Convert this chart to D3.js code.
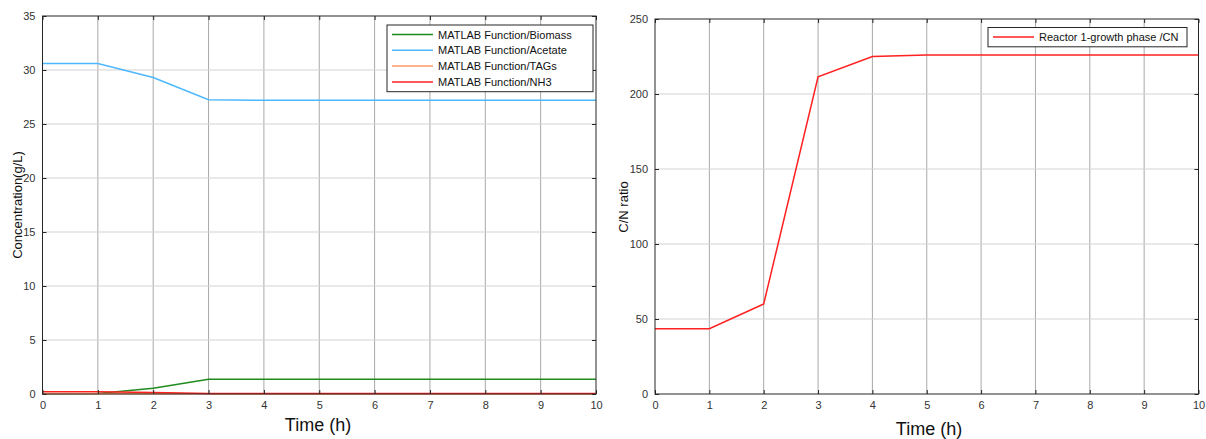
<!DOCTYPE html>
<html>
<head>
<meta charset="utf-8">
<script src="https://d3js.org/d3.v7.min.js"></script>
<style>
  body { margin: 0; background: #fff; }
  text { font-family: "Liberation Sans", Arial, sans-serif; }
</style>
</head>
<body>
<div id="chart"></div>
<script>
// time points (h)
var timeH = [0, 1, 2, 3, 4, 5, 6, 7, 8, 9, 10];

// left panel series, g/L
var biomass = [0.02, 0.05, 0.53, 1.36, 1.37, 1.37, 1.37, 1.37, 1.37, 1.37, 1.37];
var acetate = [30.6, 30.6, 29.3, 27.25, 27.2, 27.2, 27.2, 27.2, 27.2, 27.2, 27.2];
var tags = [0.02, 0.02, 0.02, 0.02, 0.02, 0.02, 0.02, 0.02, 0.02, 0.02, 0.02];
var nh3 = [0.2, 0.2, 0.15, 0.05, 0.05, 0.05, 0.05, 0.05, 0.05, 0.05, 0.05];
var leftNames = ["MATLAB Function/Biomass", "MATLAB Function/Acetate", "MATLAB Function/TAGs", "MATLAB Function/NH3"];
var leftColors = ["#1f8a1f", "#4db8ff", "#ff9966", "#ff2020"];
var leftTicks = [0, 5, 10, 15, 20, 25, 30, 35];

// right panel series
var cnRatio = [43.5, 43.5, 60, 211.5, 225, 226, 226, 226, 226, 226, 226];
var rightNames = ["Reactor 1-growth phase /CN"];
var rightColors = ["#ff2020"];
var rightTicks = [0, 50, 100, 150, 200, 250];

var xTicks = [0, 1, 2, 3, 4, 5, 6, 7, 8, 9, 10];

var svg = d3.select("#chart").append("svg")
  .attr("width", 1206)
  .attr("height", 439);

function drawPanel(opt) {
  var g = svg.append("g");
  var x = d3.scaleLinear().domain([0, 10]).range([opt.left, opt.right]);
  var y = d3.scaleLinear().domain(opt.yDomain).range([opt.bottom, opt.top]);

  // grid
  g.selectAll(".vg").data(xTicks.slice(1, -1)).enter().append("line")
    .attr("x1", function(d) { return x(d); }).attr("x2", function(d) { return x(d); })
    .attr("y1", opt.top).attr("y2", opt.bottom)
    .attr("stroke", "#a8a8a8").attr("stroke-width", 1);
  g.selectAll(".hg").data(opt.yTicks.slice(1, -1)).enter().append("line")
    .attr("x1", opt.left).attr("x2", opt.right)
    .attr("y1", function(d) { return y(d); }).attr("y2", function(d) { return y(d); })
    .attr("stroke", "#d4d4d4").attr("stroke-width", 1.2);

  // lines
  var line = d3.line()
    .x(function(d, i) { return x(timeH[i]); })
    .y(function(d) { return y(d); });
  opt.series.forEach(function(s, i) {
    g.append("path").datum(s)
      .attr("d", line)
      .attr("fill", "none")
      .attr("stroke", opt.colors[i])
      .attr("stroke-width", 1.5);
  });

  // axes box with inward ticks on all sides
  g.append("rect")
    .attr("x", opt.left).attr("y", opt.top)
    .attr("width", opt.right - opt.left).attr("height", opt.bottom - opt.top)
    .attr("fill", "none").attr("stroke", "#262626").attr("stroke-width", 1);

  var axB = d3.axisBottom(x).tickValues(xTicks).tickSizeInner(-4).tickSizeOuter(0).tickPadding(7);
  var axL = d3.axisLeft(y).tickValues(opt.yTicks).tickSizeInner(-4).tickSizeOuter(0).tickPadding(7);
  var axT = d3.axisTop(x).tickValues(xTicks).tickSizeInner(-4).tickSizeOuter(0).tickFormat("");
  var axR = d3.axisRight(y).tickValues(opt.yTicks).tickSizeInner(-4).tickSizeOuter(0).tickFormat("");

  [[axB, "translate(0," + opt.bottom + ")"], [axL, "translate(" + opt.left + ",0)"],
   [axT, "translate(0," + opt.top + ")"], [axR, "translate(" + opt.right + ",0)"]].forEach(function(a) {
    var ag = g.append("g").attr("transform", a[1]).call(a[0]);
    ag.select(".domain").remove();
    ag.selectAll("line").attr("stroke", "#262626");
    ag.selectAll("text").attr("fill", "#333").style("font-size", "11px")
      .style("font-family", "Liberation Sans, Arial, sans-serif");
  });

  // axis labels
  g.append("text")
    .attr("x", opt.xLabelX).attr("y", opt.xLabelY)
    .attr("text-anchor", "middle")
    .style("font-size", "18px").attr("fill", "#111")
    .text("Time (h)");
  g.append("text")
    .attr("transform", "translate(" + opt.yLabelX + "," + opt.yLabelY + ") rotate(-90)")
    .attr("text-anchor", "middle")
    .style("font-size", "13px").attr("fill", "#111")
    .text(opt.yLabel);

  // legend
  var lg = g.append("g");
  lg.append("rect")
    .attr("x", opt.legX).attr("y", opt.legY)
    .attr("width", opt.legW).attr("height", opt.names.length * 15.8 + 3.5)
    .attr("fill", "#fff").attr("stroke", "#262626").attr("stroke-width", 1);
  opt.names.forEach(function(n, i) {
    var ly = opt.legY + 9.5 + i * 15.8;
    lg.append("line")
      .attr("x1", opt.legX + 5).attr("x2", opt.legX + 46)
      .attr("y1", ly).attr("y2", ly)
      .attr("stroke", opt.colors[i]).attr("stroke-width", 1.5);
    lg.append("text")
      .attr("x", opt.legX + 51).attr("y", ly + 4)
      .style("font-size", "11px").attr("fill", "#111")
      .text(n);
  });
}

drawPanel({
  left: 42.5, right: 596, top: 16, bottom: 394,
  yDomain: [0, 35], yTicks: leftTicks,
  series: [biomass, acetate, tags, nh3], colors: leftColors, names: leftNames,
  xLabelX: 318, xLabelY: 431, yLabelX: 22, yLabelY: 205, yLabel: "Concentration(g/L)",
  legX: 387, legY: 25, legW: 206
});

drawPanel({
  left: 655, right: 1198.5, top: 19, bottom: 394,
  yDomain: [0, 250], yTicks: rightTicks,
  series: [cnRatio], colors: rightColors, names: rightNames,
  xLabelX: 929, xLabelY: 435, yLabelX: 628, yLabelY: 207, yLabel: "C/N ratio",
  legX: 988, legY: 27.5, legW: 199
});
</script>
</body>
</html>
